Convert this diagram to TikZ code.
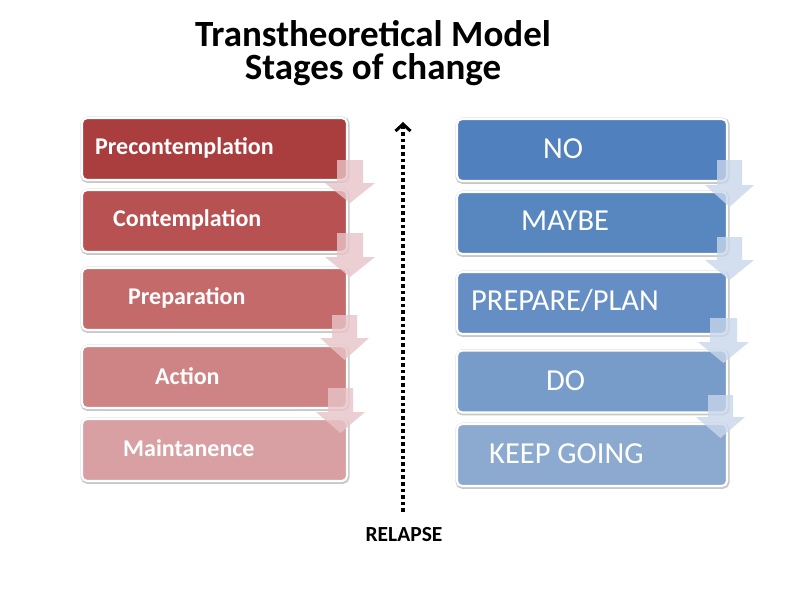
\documentclass[tikz,border=0pt]{standalone}
\usepackage{fontspec}
\setmainfont{Carlito}
\usetikzlibrary{arrows.meta}
\definecolor{rA}{RGB}{170,62,62}
\definecolor{rB}{RGB}{184,82,82}
\definecolor{rC}{RGB}{196,106,106}
\definecolor{rD}{RGB}{206,132,132}
\definecolor{rE}{RGB}{216,160,162}
\definecolor{bA}{RGB}{80,128,190}
\definecolor{bB}{RGB}{88,135,192}
\definecolor{bC}{RGB}{101,143,196}
\definecolor{bD}{RGB}{120,156,201}
\definecolor{bE}{RGB}{140,170,208}
\definecolor{arrR}{RGB}{232,196,200}
\definecolor{arrB}{RGB}{200,214,234}
\tikzset{
  stagebox/.style={rectangle, rounded corners=5pt, draw=white, line width=2.2pt,
    preaction={draw=black!22, line width=4.2pt, transform canvas={xshift=0.6pt,yshift=-0.8pt}},
    minimum height=62pt, inner sep=0pt},
  leftbox/.style={stagebox, minimum width=265pt},
  rightbox/.style={stagebox, minimum width=270pt},
  lefttext/.style={anchor=west, text=white, font=\fontsize{24}{27}\selectfont\bfseries, inner sep=0pt},
  righttext/.style={anchor=west, text=white, font=\fontsize{30.5}{33}\selectfont, inner sep=0pt},
  arrowR/.style={fill=arrR, fill opacity=0.8},
  arrowB/.style={fill=arrB, fill opacity=0.8},
  relapseline/.style={line width=3.6pt, dash pattern=on 3.6pt off 3pt,
    -{Straight Barb[length=7pt,width=15pt,line width=3pt]}}
}
\newcommand{\stagearrow}[6]{% style, shaft x1, shaft x2, top y, head y, tip y
  \fill[#1] (#2,#4) -- (#3,#4) -- (#3,#5) -- ({#3+12},#5) -- ({(#2+#3)/2},#6) -- ({#2-12},#5) -- (#2,#5) -- cycle;}
\begin{document}
\begin{tikzpicture}[x=1pt,y=-1pt]
\useasboundingbox[fill=white] (0,0) rectangle (798,600);
% title
\node[font=\fontsize{37}{33.5}\selectfont\bfseries, align=center, inner sep=0pt] (title) at (373,53) {Transtheoretical Model\\Stages of change};
% left boxes
\node[leftbox, fill=rA] (l1) at (214.5,149) {};
\node[leftbox, fill=rB] (l2) at (214.5,221) {};
\node[leftbox, fill=rC] (l3) at (214.5,299) {};
\node[leftbox, fill=rD] (l4) at (214.5,377) {};
\node[leftbox, fill=rE] (l5) at (214.5,450) {};
\node[lefttext] (t1) at (95,148) {Precontemplation};
\node[lefttext] (t2) at (113,220) {Contemplation};
\node[lefttext] (t3) at (128,298) {Preparation};
\node[lefttext] (t4) at (155,376) {Action};
\node[lefttext] (t5) at (123,448) {Maintanence};
% right boxes
\node[rightbox, fill=bA] (r1) at (592,150) {};
\node[rightbox, fill=bB] (r2) at (592,223) {};
\node[rightbox, fill=bC] (r3) at (592,303) {};
\node[rightbox, fill=bD] (r4) at (592,381.5) {};
\node[rightbox, fill=bE] (r5) at (592,455) {};
\node[righttext] (s1) at (543,149) {NO};
\node[righttext] (s2) at (521,221) {MAYBE};
\node[righttext] (s3) at (471,301) {PREPARE/PLAN};
\node[righttext] (s4) at (546,381) {DO};
\node[righttext] (s5) at (489,454) {KEEP GOING};
% step arrows left
\stagearrow{arrowR}{337}{363}{160}{183}{203}
\stagearrow{arrowR}{337}{363}{233}{257}{277}
\stagearrow{arrowR}{332}{357}{315}{338}{360}
\stagearrow{arrowR}{328}{353}{388}{412}{433}
% step arrows right
\stagearrow{arrowB}{717}{742}{160}{185}{207}
\stagearrow{arrowB}{717}{742}{237}{260}{280}
\stagearrow{arrowB}{710}{737}{318}{342}{363}
\stagearrow{arrowB}{708}{733}{395}{417}{438}
% relapse
\node[font=\fontsize{21.5}{24}\selectfont\bfseries, inner sep=0pt] (relapse) at (404,535) {RELAPSE};
\coordinate (relbot) at (403,512);
\coordinate (reltop) at (403,122);
\draw[relapseline] (relbot) -- (reltop);
\end{tikzpicture}
\end{document}
